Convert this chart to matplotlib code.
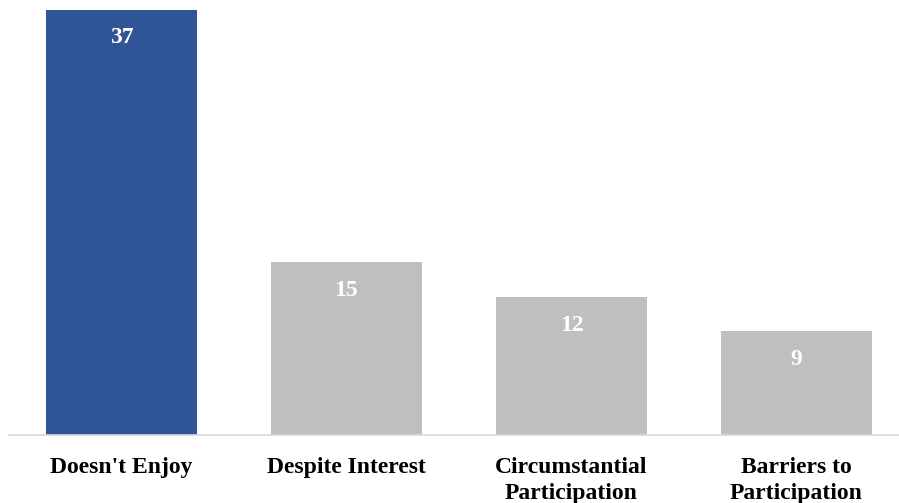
import numpy as np
import matplotlib.pyplot as plt

categories = ["Doesn't Enjoy", "Despite Interest", "Circumstantial\nParticipation", "Barriers to\nParticipation"]
values = [37, 15, 12, 9]
colors = ["#2F5597", "#BFBFBF", "#BFBFBF", "#BFBFBF"]

plt.rcParams['font.family'] = ['Liberation Serif', 'DejaVu Serif']

W, H = 899, 503
fig = plt.figure(figsize=(W / 100, H / 100), dpi=100)
ax = fig.add_axes([9 / W, 68.5 / H, 890 / W, 434.5 / H])

x = np.arange(len(values))
bars = ax.bar(x, values, width=0.67, color=colors)

ax.set_xlim(-0.5, -0.5 + 890 / 225)
ax.set_ylim(0, 37 * 434.5 / 425)

# white value labels just inside the top of each bar
for b, v in zip(bars, values):
    ax.annotate(str(v), (b.get_x() + b.get_width() / 2, v),
                xytext=(0, -20.5), textcoords='offset points',
                ha='center', va='center', color='white',
                fontsize=17, fontweight='bold')

ax.set_xticks(x)
ax.set_xticklabels(categories, fontsize=17, fontweight='bold', linespacing=1.33)
ax.tick_params(axis='x', length=0, pad=16)
ax.set_yticks([])
for s in ['top', 'right', 'left']:
    ax.spines[s].set_visible(False)
ax.spines['bottom'].set_color('#D9D9D9')
ax.spines['bottom'].set_linewidth(1.2)

fig.savefig('out.png', dpi=100)
